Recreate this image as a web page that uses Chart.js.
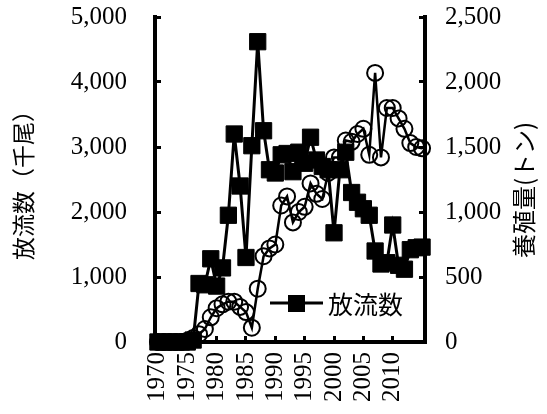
<!DOCTYPE html>
<html>
<head>
<meta charset="utf-8">
<script src="https://cdn.jsdelivr.net/npm/chart.js@4.4.1/dist/chart.umd.min.js"></script>
<style>
  html, body { margin: 0; padding: 0; background: #fff; }
</style>
</head>
<body>
<canvas id="chart" width="547" height="414"></canvas>
<script>
// 年 (1970-2015)
const years = ['1970','1971','1972','1973','1974','1975','1976','1977','1978','1979',
               '1980','1981','1982','1983','1984','1985','1986','1987','1988','1989',
               '1990','1991','1992','1993','1994','1995','1996','1997','1998','1999',
               '2000','2001','2002','2003','2004','2005','2006','2007','2008','2009',
               '2010','2011','2012','2013','2014','2015'];

// 放流数 (千尾) - 左軸
const releaseCount = [0, 0, 0, 0, 0, 0, 30, 900, 880, 1280,
                      860, 1140, 1950, 3200, 2400, 1300, 3020, 4620, 3250, 2650,
                      2600, 2880, 2900, 2620, 2920, 2750, 3150, 2800, 2700, 2650,
                      1680, 2650, 2920, 2300, 2150, 2050, 1950, 1400, 1200, 1220,
                      1800, 1180, 1120, 1420, 1450, 1460];

// 養殖量 (トン) - 右軸
const farmVolume = [0, 0, 0, 0, 0, 10, 30, 60, 100, 190,
                    260, 290, 310, 310, 270, 230, 110, 410, 660, 720,
                    750, 1050, 1120, 920, 1000, 1040, 1220, 1140, 1100, 1300,
                    1420, 1420, 1550, 1540, 1600, 1640, 1440, 2070, 1420, 1800,
                    1800, 1720, 1640, 1530, 1500, 1490];

const xTickLabels = ['1970','1975','1980','1985','1990','1995','2000','2005','2010'];

const leftTitle = '放流数（千尾）';
const rightTitle = '養殖量(トン)';
const legendLabel = '放流数';

const serif = '"Liberation Serif", "Times New Roman", serif';
const jp = '"Noto Sans CJK JP", sans-serif';

// 右軸タイトルと凡例は手描き（下から上へ読む向き・プロット内配置のため）
const extras = {
    id: 'extras',
    afterDraw(chart) {
        const ctx = chart.ctx;
        const area = chart.chartArea;
        ctx.save();
        ctx.fillStyle = '#000';
        ctx.font = '24px ' + jp;
        ctx.textAlign = 'center';
        ctx.textBaseline = 'middle';
        ctx.translate(524, 190);
        ctx.rotate(-Math.PI / 2);
        ctx.fillText(rightTitle, 0, 0);
        ctx.restore();

        // 凡例
        const ly = area.bottom - 39;
        const lx = area.left + 115;
        ctx.save();
        ctx.strokeStyle = '#000';
        ctx.lineWidth = 3;
        ctx.beginPath();
        ctx.moveTo(lx, ly);
        ctx.lineTo(lx + 53, ly);
        ctx.stroke();
        ctx.fillStyle = '#000';
        ctx.fillRect(lx + 18, ly - 8, 17, 17);
        ctx.font = '25px ' + jp;
        ctx.textAlign = 'left';
        ctx.textBaseline = 'middle';
        ctx.fillText(legendLabel, lx + 58, ly + 1);
        ctx.restore();
    }
};

// 軸ラベルのはみ出し分の余白を無くして、プロット領域を固定する
const noPad = s => { s.paddingTop = 0; s.paddingBottom = 0; s.paddingLeft = 0; s.paddingRight = 0; };

new Chart(document.getElementById('chart'), {
    type: 'line',
    data: {
        labels: years,
        datasets: [{
            label: legendLabel,
            data: releaseCount,
            yAxisID: 'y',
            borderColor: '#000',
            borderWidth: 3,
            pointStyle: 'rect',
            pointRadius: 11.5,
            pointBackgroundColor: '#000',
            pointBorderColor: '#000',
            pointBorderWidth: 1,
            tension: 0,
            clip: false,
            order: 2
        }, {
            label: '養殖量',
            data: farmVolume,
            yAxisID: 'y2',
            borderColor: '#000',
            borderWidth: 2.5,
            pointStyle: 'circle',
            pointRadius: 8,
            pointBackgroundColor: 'rgba(0,0,0,0)',
            pointBorderColor: '#000',
            pointBorderWidth: 2,
            tension: 0,
            clip: false,
            order: 1
        }]
    },
    options: {
        responsive: false,
        animation: false,
        layout: { padding: { top: 17, left: 0, right: 0, bottom: 0 } },
        plugins: {
            legend: { display: false },
            tooltip: { enabled: false }
        },
        scales: {
            x: {
                type: 'category',
                offset: true,
                border: { display: true, color: '#000', width: 4 },
                grid: {
                    drawOnChartArea: false,
                    tickLength: -6,
                    lineWidth: 3,
                    color: c => xTickLabels.includes(years[c.index]) ? '#000' : 'rgba(0,0,0,0)'
                },
                ticks: {
                    autoSkip: false,
                    maxRotation: 90,
                    minRotation: 90,
                    padding: 16,
                    color: '#000',
                    font: { family: serif, size: 25 },
                    callback: (v, i) => xTickLabels.includes(years[i]) ? years[i] : ''
                },
                afterFit: s => { s.height = 72; noPad(s); }
            },
            y: {
                position: 'left',
                min: 0,
                max: 5000,
                border: { display: true, color: '#000', width: 4 },
                grid: { drawOnChartArea: false, tickLength: -6, lineWidth: 3, color: '#000' },
                ticks: {
                    stepSize: 1000,
                    padding: 34,
                    color: '#000',
                    font: { family: serif, size: 25 },
                    callback: v => v.toLocaleString('en-US')
                },
                title: {
                    display: true,
                    text: leftTitle,
                    color: '#000',
                    font: { family: jp, size: 23 },
                    padding: { top: 9, bottom: 0 }
                },
                afterFit: s => { s.width = 155; noPad(s); }
            },
            y2: {
                position: 'right',
                min: 0,
                max: 2500,
                border: { display: true, color: '#000', width: 4 },
                grid: { drawOnChartArea: false, tickLength: -6, lineWidth: 3, color: '#000' },
                ticks: {
                    stepSize: 500,
                    padding: 26,
                    color: '#000',
                    font: { family: serif, size: 25 },
                    callback: v => v.toLocaleString('en-US')
                },
                afterFit: s => { s.width = 122; noPad(s); }
            }
        }
    },
    plugins: [extras]
});
</script>
</body>
</html>
